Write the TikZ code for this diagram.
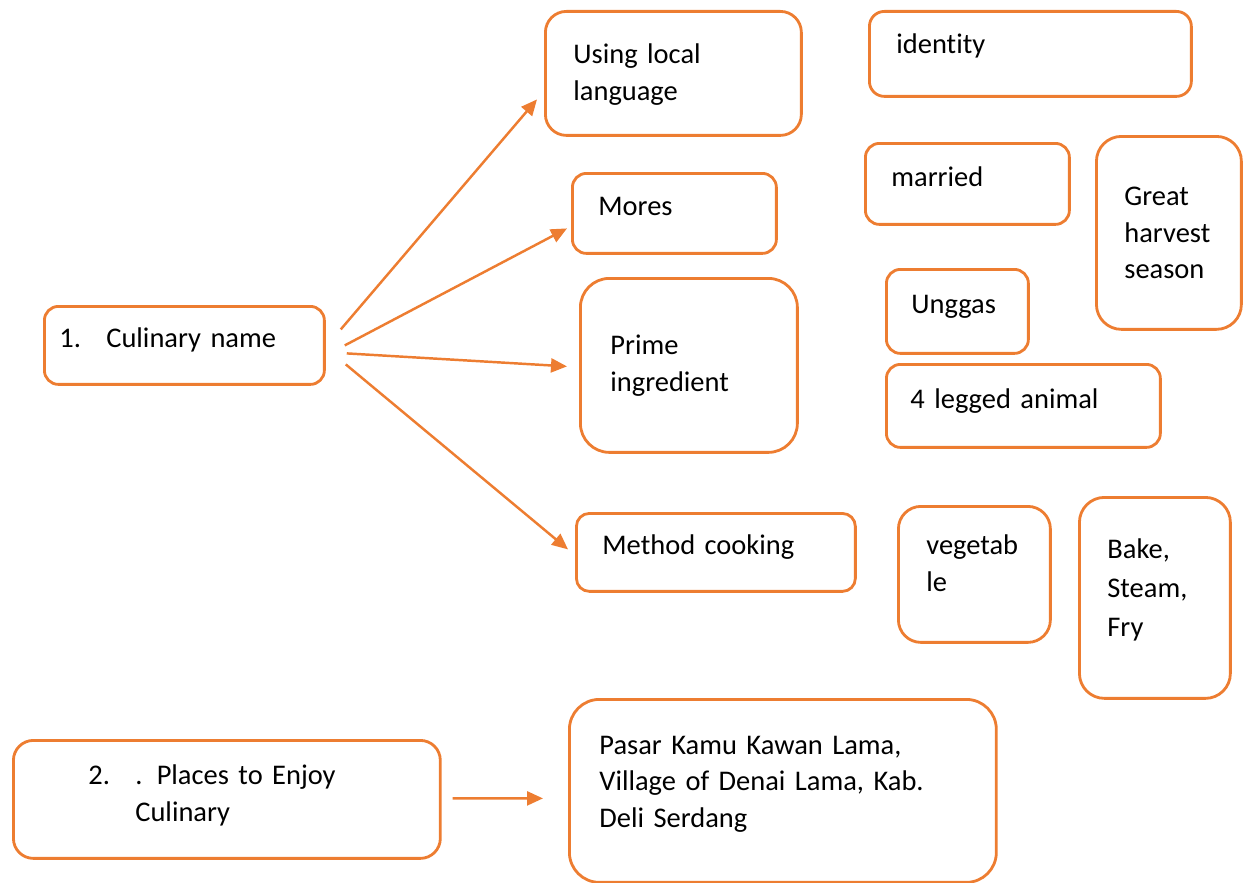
\documentclass[tikz,border=0pt]{standalone}
\usepackage{fontspec}
\setmainfont[Ligatures=NoCommon]{Carlito}
\usepackage{tikz}
\usetikzlibrary{arrows.meta,positioning,calc}
\usepackage{xcolor}
\definecolor{cborange}{RGB}{237,125,49}
\tikzstyle{arrow} = [line width=1.4pt,-{Triangle[length=0.32cm,width=0.28cm]},color=cborange]
\tikzstyle{itembox} = [rectangle, draw=cborange, line width=1.6pt, anchor=north west, align=left, inner ysep=0pt, font=\fontsize{16.2}{21}\selectfont]
\tikzstyle{oneline} = [text height=0.4cm, text depth=0.3cm]

\begin{document}
\begin{tikzpicture}[x=0.02cm,y=-0.02cm]
\useasboundingbox (0,0) rectangle (1246,882);

% Culinary name
\node[itembox, oneline, minimum width=5.6cm, minimum height=1.56cm, text width=5.0cm, inner xsep=0.3cm, rounded corners=0.28cm] (cul) at (43,305) {\makebox[0.94cm][l]{1.}Culinary name};

% Branches
\node[itembox, minimum width=5.12cm, minimum height=2.48cm, text width=4.0cm, inner xsep=0.56cm, rounded corners=0.42cm, text depth=0.78cm] (lang) at (544,10) {Using local\\language};
\node[itembox, oneline, minimum width=4.08cm, minimum height=1.6cm, text width=3.04cm, inner xsep=0.52cm, rounded corners=0.28cm] (mores) at (571,172) {Mores};
\node[itembox, minimum width=4.34cm, minimum height=3.48cm, text width=3.14cm, inner xsep=0.6cm, rounded corners=0.58cm] (prime) at (579,277) {Prime\\ingredient};
\node[itembox, oneline, minimum width=5.58cm, minimum height=1.56cm, text width=4.54cm, inner xsep=0.52cm, rounded corners=0.26cm] (method) at (575,512) {Method cooking};

% Details
\node[itembox, oneline, minimum width=6.44cm, minimum height=1.7cm, text width=5.36cm, inner xsep=0.54cm, rounded corners=0.3cm, text depth=0.4cm] (ident) at (868,10) {identity};
\node[itembox, oneline, minimum width=4.08cm, minimum height=1.62cm, text width=3.04cm, inner xsep=0.52cm, rounded corners=0.28cm] (married) at (864,142) {married};
\node[itembox, minimum width=2.9cm, minimum height=3.86cm, text width=1.78cm, inner xsep=0.56cm, rounded corners=0.5cm] (harvest) at (1095,135) {Great\\harvest\\season};
\node[itembox, oneline, minimum width=2.84cm, minimum height=1.68cm, text width=1.84cm, inner xsep=0.5cm, rounded corners=0.28cm] (unggas) at (885,268) {Unggas};
\node[itembox, oneline, minimum width=5.48cm, minimum height=1.66cm, text width=4.52cm, inner xsep=0.48cm, rounded corners=0.28cm] (legged) at (885,363) {4 legged animal};
\node[itembox, minimum width=3.04cm, minimum height=2.72cm, text width=1.92cm, inner xsep=0.56cm, rounded corners=0.45cm, text depth=1.18cm] (veg) at (897,505) {vegetab\\le};
\node[itembox, minimum width=3.02cm, minimum height=4.02cm, text width=1.9cm, inner xsep=0.56cm, rounded corners=0.5cm, text depth=1.96cm] (bake) at (1078,496) {Bake,\\[1pt]Steam,\\[1pt]Fry};

% Places
\node[itembox, minimum width=8.54cm, minimum height=2.36cm, text width=5.54cm, inner xsep=1.5cm, rounded corners=0.4cm, text depth=0.98cm] (places) at (12,739) {\makebox[0.94cm][l]{2.}. Places to Enjoy\\\hspace*{0.94cm}Culinary};
\node[itembox, minimum width=8.54cm, minimum height=3.66cm, text width=7.34cm, inner xsep=0.6cm, rounded corners=0.6cm, text depth=1.84cm] (pasar) at (568,698) {Pasar Kamu Kawan Lama,\\Village of Denai Lama, Kab.\\Deli Serdang};

% Arrows
\draw[arrow] ($(cul.east)+(15,-16)$) -- ($(lang.west)+(-7,26)$);
\draw[arrow] ($(cul.east)+(19,0)$) -- ($(mores.west)+(-4,15)$);
\draw[arrow] ($(cul.east)+(21,8)$) -- ($(prime.west)+(-12,1)$);
\draw[arrow] ($(cul.east)+(20,19)$) -- ($(method.west)+(-7,-3)$);
\draw[arrow] ($(places.east)+(11,-1)$) -- ($(pasar.west)+(-25,7.5)$);
\end{tikzpicture}
\end{document}
